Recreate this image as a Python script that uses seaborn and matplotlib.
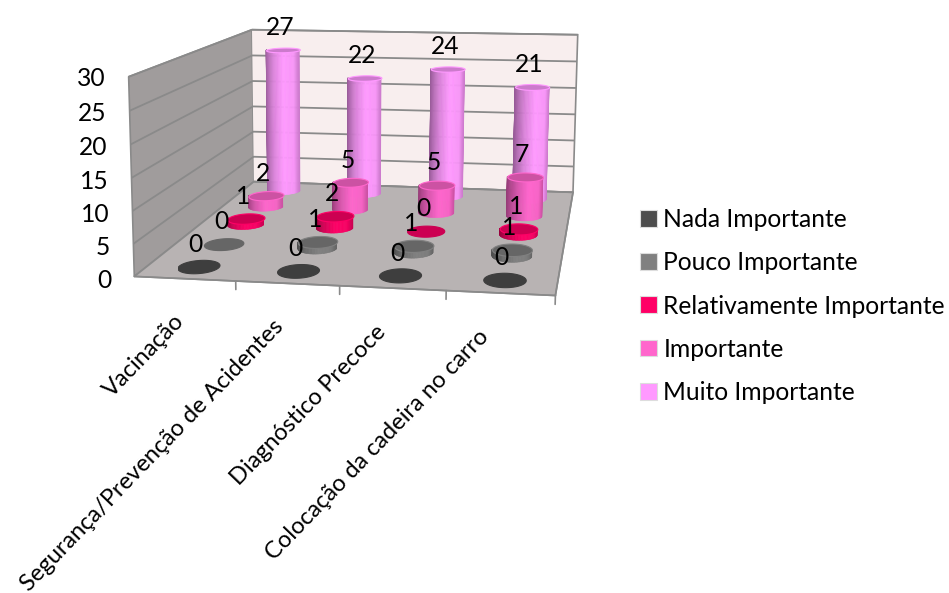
import numpy as np
import matplotlib
matplotlib.use("Agg")
import matplotlib.pyplot as plt
from matplotlib.patches import Patch
from mpl_toolkits.mplot3d import proj3d
from mpl_toolkits.mplot3d.art3d import Poly3DCollection
import seaborn as sns

categories = ["Vacinação", "Segurança/Prevenção de Acidentes", "Diagnóstico Precoce", "Colocação da cadeira no carro"]
series_names = ["Nada Importante", "Pouco Importante", "Relativamente Importante", "Importante", "Muito Importante"]
nada = [0, 0, 0, 0]
pouco = [0, 1, 1, 1]
relativamente = [1, 2, 0, 1]
importante = [2, 5, 5, 7]
muito = [27, 22, 24, 21]
series_colors = ["#4d4d4d", "#808080", "#ff0066", "#ff66cc", "#ff99ff"]
z_ticks = [0, 5, 10, 15, 20, 25, 30]
label_anchors = [0.52, 1.46, 2.41, 3.34]
FS = 17.7

sns.set_theme(style="white")
plt.rcParams["font.family"] = ["Lato", "DejaVu Sans"]
plt.rcParams["text.color"] = "black"
palette = sns.color_palette(series_colors)

W, H = 949, 593
fig = plt.figure(figsize=(W / 100, H / 100), dpi=100)
ax = fig.add_axes([0, 0, 1, 1], projection="3d", computed_zorder=False)
ax.patch.set_alpha(0)

# camera fitted to the corners of the chart box (world coords -> pixel coords)
world = np.array([[0, 0, 0], [0, 5, 0], [0, 5, 30], [0, 0, 30], [4, 0, 0], [4, 5, 0], [4, 5, 30]], float)
pixel = np.array([[135, 276.7], [253.3, 181.7], [252.3, 30], [128.3, 76], [555, 296], [573.3, 191.7], [577.7, 35]], float)


def fit_camera(w, p):
    S = np.diag([1 / 4, 1 / 5, 1 / 30, 1])
    q = (S @ np.c_[w, np.ones(len(w))].T).T
    uv = np.c_[p[:, 0], H - p[:, 1]] / 500
    rows = []
    for Xq, (u, v) in zip(q, uv):
        rows.append(np.r_[Xq, np.zeros(4), -u * Xq])
        rows.append(np.r_[np.zeros(4), Xq, -v * Xq])
    P = np.linalg.svd(np.array(rows))[2][-1].reshape(3, 4)
    P = np.diag([500, 500, 1]) @ P @ S
    P = P / (P[2] @ np.array([2, 2.5, 15, 1]))
    return P


P = fit_camera(world, pixel)
depth = np.array([-0.5, 1, -0.1, 0])


def get_proj():
    T = ax.transData.inverted().get_matrix()
    return np.vstack([T[0] @ P, T[1] @ P, depth, P[2]])


ax.get_proj = get_proj
ax.apply_aspect()

RX, RY = 0.2, 0.28
angles = np.linspace(np.pi, 2 * np.pi, 41)
shade_t = [0, 0.1, 0.35, 0.65, 0.9, 1]
shade_f = [0.58, 0.66, 0.85, 1.0, 0.97, 0.8]


def cylinder(cx, cy, h, color, zo):
    col = np.array(color)
    if h > 0:
        X = np.array([cx + RX * np.cos(angles)] * 2)
        Y = np.array([cy + RY * np.sin(angles)] * 2)
        Z = np.array([np.zeros_like(angles), np.full_like(angles, h)])
        mid = (angles[:-1] + angles[1:]) / 2
        f = np.interp((np.cos(mid) + 1) / 2, shade_t, shade_f)
        fc = np.ones((1, len(mid), 4))
        fc[0, :, :3] = f[:, None] * col
        ax.plot_surface(X, Y, Z, facecolors=fc, shade=False, rstride=1, cstride=1,
                        linewidth=0.4, zorder=zo)
    th = np.linspace(0, 2 * np.pi, 61)
    verts = np.c_[cx + RX * np.cos(th), cy + RY * np.sin(th), np.full_like(th, h)]
    cap = Poly3DCollection([verts], facecolor=tuple(col * 0.8), edgecolor=tuple(col) if h > 0 else tuple(col * 0.8),
                           linewidth=0.8, zorder=zo + 0.5)
    ax.add_collection3d(cap)


all_series = [nada, pouco, relativamente, importante, muito]
M = get_proj()
for s, vals in enumerate(all_series):
    for c, v in enumerate(vals):
        cylinder(c + 0.5, s + 0.5, v, palette[s], 10 + (4 - s) * 2)
        px, py, _ = proj3d.proj_transform(c + 0.5, s + 0.5, v, M)
        ax.annotate(str(v), xy=(px, py), xycoords="data", xytext=(-2, 16), textcoords="offset points",
                    ha="center", va="center", fontsize=FS, color="black", zorder=50, annotation_clip=False)

# tick marks: category boundaries on the floor edge, value marks on the left edge
for b in range(len(categories) + 1):
    ax.plot([b, b], [0, 0], [0, -1.3], color="#8a8a8a", lw=1.2, zorder=5)
for z in z_ticks:
    ax.plot([0, -0.09], [0, 0], [z, z], color="#8a8a8a", lw=1.2, zorder=5)

ax.set_xlim(0, 4)
ax.set_ylim(0, 5)
ax.set_zlim(0, 30)
ax.set_autoscale_on(False)

ax.set_xticks(label_anchors)
ax.set_xticklabels(categories, rotation=46, ha="right", va="top", rotation_mode="anchor", fontsize=17)
ax.set_yticks([])
ax.set_zticks(z_ticks)
ax.set_zticklabels([str(z) for z in z_ticks], va="center", ha="right", fontsize=FS)
ax.zaxis.set_ticks_position("lower")
ax.tick_params(axis="z", pad=1, labelcolor="black")
ax.tick_params(axis="x", pad=13.5, labelcolor="black")

grid_col = "#8a8a8a"
ax.xaxis.set_pane_color("#a09c9c")
ax.yaxis.set_pane_color("#f8eeee")
ax.zaxis.set_pane_color("#b8b3b3")
for a in (ax.xaxis, ax.yaxis, ax.zaxis):
    a.pane.set_edgecolor(grid_col)
    a.pane.set_linewidth(1.2)
    a.line.set_color(grid_col)
    a.line.set_linewidth(1.2)
    a._axinfo["grid"]["color"] = grid_col
    a._axinfo["grid"]["linewidth"] = 0
    a._axinfo["tick"]["inward_factor"] = 0
    a._axinfo["tick"]["outward_factor"] = 0
ax.zaxis._axinfo["grid"]["linewidth"] = 1.3
ax.grid(True)

handles = [Patch(facecolor=c, edgecolor="#dddddd", linewidth=0.8) for c in palette]
ax.legend(handles, series_names, loc="center left", bbox_to_anchor=(640 / W, 1 - 306 / H),
          bbox_transform=fig.transFigure, frameon=False, fontsize=FS, labelspacing=0.82,
          handlelength=0.68, handleheight=0.68, handletextpad=0.27, borderpad=0, borderaxespad=0,
          labelcolor="black")

fig.savefig("out.png", dpi=100)
